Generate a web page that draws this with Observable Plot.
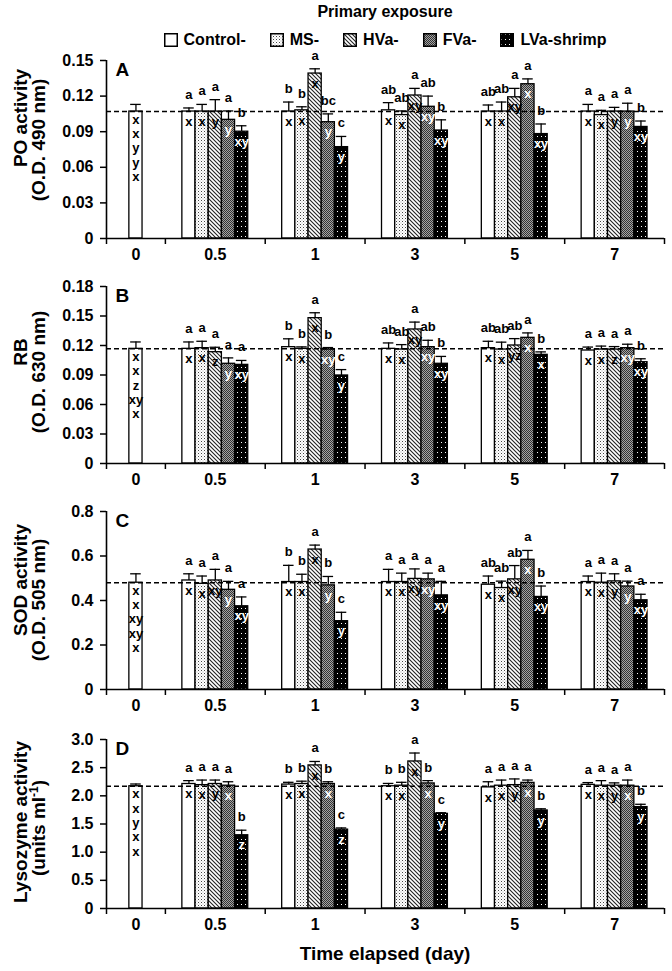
<!DOCTYPE html>
<html><head><meta charset="utf-8">
<script src="https://cdn.jsdelivr.net/npm/d3@7"></script>
<script src="https://cdn.jsdelivr.net/npm/@observablehq/plot@0.6"></script>
<style>
body{margin:0;background:#fff;font-family:"Liberation Sans",Arial,sans-serif;}
#legend{position:relative;height:50px;width:672px;font-weight:bold;font-size:16px;color:#000;}
#ltitle{position:absolute;top:3px;left:106px;width:558px;text-align:center;line-height:18px;}
#litems{position:absolute;top:31px;left:106px;width:558px;display:flex;justify-content:center;gap:24px;line-height:18px;}
.item{display:flex;align-items:center;gap:6px;}
.item svg{display:block;}
svg.plot{display:block;}
</style></head><body>
<svg width="0" height="0" style="position:absolute"><defs>
<pattern id="pMS" patternUnits="userSpaceOnUse" width="3" height="3"><rect width="3" height="3" fill="#fff"/><rect width="1" height="1" fill="#444"/><rect x="1.5" y="1.5" width="1" height="1" fill="#aaa"/></pattern>
<pattern id="pHV" patternUnits="userSpaceOnUse" width="4" height="4"><rect width="4" height="4" fill="#fff"/><path d="M-1,-1L5,5M-1,3L1,5M3,-1L5,1" stroke="#222" stroke-width="1.1"/></pattern>
<pattern id="pFV" patternUnits="userSpaceOnUse" width="2" height="2"><rect width="2" height="2" fill="#a4a4a4"/><rect width="1" height="1" fill="#333"/><rect x="1" y="1" width="1" height="1" fill="#333"/></pattern>
<pattern id="pLV" patternUnits="userSpaceOnUse" width="4" height="5"><rect width="4" height="5" fill="#000"/><rect x="1" y="1" width="1" height="1" fill="#fff"/></pattern>
</defs></svg>
<div id="legend"><div id="ltitle">Primary exposure</div><div id="litems"></div></div>
<div id="charts"></div>
<script>
// ---------- data ----------
const days = ["0", "0.5", "1", "3", "5", "7"];
const series = ["Control-", "MS-", "HVa-", "FVa-", "LVa-shrimp"];
const fills = ["#fff", "url(#pMS)", "url(#pHV)", "url(#pFV)", "url(#pLV)"];

// Panel A: PO activity (rows = series, columns = days 0.5, 1, 3, 5, 7)
const poDay0 = [0.107, 0.006];
const poDay0Letters = ["x", "x", "y", "y", "x"];
const poMean = [
  [0.107, 0.107, 0.108, 0.107, 0.107],
  [0.107, 0.108, 0.104, 0.107, 0.104],
  [0.107, 0.139, 0.1205, 0.119, 0.107],
  [0.100, 0.098, 0.111, 0.130, 0.107],
  [0.090, 0.077, 0.091, 0.088, 0.094]
];
const poSE = [
  [0.003, 0.008, 0.0065, 0.0055, 0.006],
  [0.006, 0.003, 0.0035, 0.008, 0.004],
  [0.010, 0.004, 0.006, 0.0075, 0.0035],
  [0.0075, 0.007, 0.009, 0.0045, 0.007],
  [0.005, 0.009, 0.009, 0.0085, 0.005]
];
const poUp = [
  ["a", "b", "ab", "ab", "a"],
  ["a", "b", "ab", "ab", "a"],
  ["a", "a", "a", "a", "a"],
  ["a", "bc", "ab", "a", "a"],
  ["b", "c", "b", "b", "b"]
];
const poIn = [
  ["x", "x", "x", "x", "x"],
  ["x", "x", "x", "x", "x"],
  ["y", "x", "xy", "xy", "y"],
  ["y", "y", "xy", "x", "y"],
  ["xy", "y", "xy", "xy", "xy"]
];
const poTicks = [0, 0.03, 0.06, 0.09, 0.12, 0.15];
const poTickLabels = ["0", "0.03", "0.06", "0.09", "0.12", "0.15"];

// Panel B: RB
const rbDay0 = [0.1166, 0.007];
const rbDay0Letters = ["x", "x", "z", "xy", "x"];
const rbMean = [
  [0.1166, 0.1183, 0.1166, 0.1173, 0.1149],
  [0.1173, 0.1166, 0.1159, 0.1159, 0.1159],
  [0.1132, 0.1478, 0.1363, 0.1200, 0.1159],
  [0.1014, 0.1159, 0.1183, 0.1278, 0.1173],
  [0.1003, 0.0895, 0.1014, 0.1105, 0.1030]
];
const rbSE = [
  [0.007, 0.0085, 0.006, 0.007, 0.0035],
  [0.007, 0.002, 0.005, 0.0075, 0.0035],
  [0.005, 0.0055, 0.0075, 0.007, 0.003],
  [0.006, 0.002, 0.007, 0.005, 0.004],
  [0.0045, 0.006, 0.0075, 0.003, 0.0035]
];
const rbUp = [
  ["a", "b", "ab", "ab", "a"],
  ["a", "b", "ab", "ab", "a"],
  ["a", "a", "a", "ab", "a"],
  ["a", "b", "ab", "a", "a"],
  ["a", "c", "b", "b", "b"]
];
const rbIn = [
  ["x", "x", "x", "x", "x"],
  ["x", "x", "x", "x", "x"],
  ["z", "x", "xy", "yz", "z"],
  ["y", "xy", "xy", "x", "xy"],
  ["xy", "y", "xy", "x", "xy"]
];
const rbTicks = [0, 0.03, 0.06, 0.09, 0.12, 0.15, 0.18];
const rbTickLabels = ["0", "0.03", "0.06", "0.09", "0.12", "0.15", "0.18"];

// Panel C: SOD activity
const sodDay0 = [0.48, 0.04];
const sodDay0Letters = ["x", "x", "xy", "xy", "x"];
const sodMean = [
  [0.490, 0.483, 0.483, 0.471, 0.483],
  [0.475, 0.483, 0.483, 0.456, 0.480],
  [0.490, 0.629, 0.497, 0.495, 0.486],
  [0.448, 0.468, 0.495, 0.583, 0.463],
  [0.374, 0.307, 0.423, 0.416, 0.401]
];
const sodSE = [
  [0.030, 0.075, 0.057, 0.039, 0.027],
  [0.035, 0.035, 0.040, 0.031, 0.043],
  [0.050, 0.020, 0.045, 0.062, 0.034],
  [0.038, 0.040, 0.028, 0.042, 0.024],
  [0.042, 0.040, 0.063, 0.049, 0.027]
];
const sodUp = [
  ["a", "b", "a", "ab", "a"],
  ["a", "b", "a", "ab", "a"],
  ["a", "a", "a", "ab", "a"],
  ["a", "b", "a", "a", "a"],
  ["a", "c", "a", "b", "a"]
];
const sodIn = [
  ["x", "x", "x", "x", "x"],
  ["x", "x", "x", "x", "x"],
  ["xy", "x", "xy", "xy", "y"],
  ["y", "y", "xy", "x", "y"],
  ["xy", "y", "xy", "xy", "xy"]
];
const sodTicks = [0, 0.2, 0.4, 0.6, 0.8];
const sodTickLabels = ["0", "0.2", "0.4", "0.6", "0.8"];

// Panel D: Lysozyme activity
const lysDay0 = [2.17, 0.04];
const lysDay0Letters = ["x", "x", "y", "x", "x"];
const lysMean = [
  [2.21, 2.20, 2.17, 2.15, 2.195],
  [2.19, 2.21, 2.18, 2.18, 2.18],
  [2.21, 2.54, 2.61, 2.19, 2.18],
  [2.18, 2.21, 2.22, 2.23, 2.18],
  [1.30, 1.40, 1.68, 1.74, 1.80]
];
const lysSE = [
  [0.06, 0.04, 0.05, 0.10, 0.04],
  [0.09, 0.05, 0.06, 0.10, 0.09],
  [0.07, 0.07, 0.15, 0.11, 0.05],
  [0.07, 0.04, 0.05, 0.05, 0.10],
  [0.09, 0.03, 0.02, 0.03, 0.05]
];
const lysUp = [
  ["a", "b", "b", "a", "a"],
  ["a", "b", "b", "a", "a"],
  ["a", "a", "a", "a", "a"],
  ["a", "b", "b", "a", "a"],
  ["b", "c", "c", "b", "b"]
];
const lysIn = [
  ["x", "x", "x", "x", "x"],
  ["x", "x", "x", "x", "x"],
  ["y", "x", "x", "y", "y"],
  ["x", "x", "x", "x", "x"],
  ["z", "z", "y", "y", "y"]
];
const lysTicks = [0, 0.5, 1.0, 1.5, 2.0, 2.5, 3.0];
const lysTickLabels = ["0", "0.5", "1.0", "1.5", "2.0", "2.5", "3.0"];

// ---------- layout helpers ----------
const groupWidths = [0.59, 1, 1, 1, 1, 1];
const boundaries = [0];
groupWidths.forEach(w => boundaries.push(boundaries[boundaries.length - 1] + w));
const centers = groupWidths.map((w, i) => boundaries[i] + w / 2);
const total = boundaries[boundaries.length - 1];
const barW = 0.132, capHalf = 0.053;
const FONT = '"Liberation Sans", Arial, sans-serif';

// legend
const li = document.getElementById("litems");
series.forEach((s, i) => {
  const el = document.createElement("span");
  el.className = "item";
  el.innerHTML = `<svg width="14" height="14"><rect x="0.75" y="0.75" width="12.5" height="12.5" fill="${fills[i]}" stroke="#000" stroke-width="1.5"/></svg><span>${s}</span>`;
  li.appendChild(el);
});

function panel(cfg) {
  const bars = [{series: series[0], k: 0, c: centers[0], mean: cfg.day0[0], se: cfg.day0[1], up: "", inner: ""}];
  for (let k = 0; k < 5; k++) for (let j = 0; j < 5; j++) {
    bars.push({series: series[k], k, c: centers[j + 1] + (k - 2) * barW,
      mean: cfg.mean[k][j], se: cfg.se[k][j], up: cfg.up[k][j], inner: cfg.inner[k][j]});
  }
  const plot = Plot.plot({
    width: 672, height: cfg.height,
    marginLeft: 106, marginRight: 8, marginTop: cfg.mt, marginBottom: cfg.mb,
    x: {type: "linear", domain: [0, total]},
    y: {domain: [0, cfg.ticks[cfg.ticks.length - 1]]},
    color: {domain: series, range: fills},
    style: {fontFamily: FONT, fontWeight: "bold", fontSize: "16px", color: "#000", background: "#fff", overflow: "visible"},
    marks: [
      Plot.rect(bars, {x1: d => d.c - barW / 2, x2: d => d.c + barW / 2, y1: d => 0, y2: "mean",
        fill: "series", stroke: "#000", strokeWidth: 1.3}),
      Plot.ruleX(bars, {x: "c", y1: "mean", y2: d => d.mean + d.se, stroke: "#000", strokeWidth: 1.3}),
      Plot.ruleY(bars, {y: d => d.mean + d.se, x1: d => d.c - capHalf, x2: d => d.c + capHalf, stroke: "#000", strokeWidth: 1.3}),
      Plot.ruleY([cfg.day0[0]], {stroke: "#000", strokeWidth: 1.5, strokeDasharray: "5,3"}),
      Plot.ruleX([0], {stroke: "#000", strokeWidth: 1.6}),
      Plot.ruleY([0], {stroke: "#000", strokeWidth: 1.6}),
      Plot.axisY({ticks: cfg.ticks, tickSize: 6, tickPadding: 7, strokeWidth: 1.5, label: null,
        tickFormat: d => cfg.tickLabels[cfg.ticks.indexOf(d)], fontSize: 16, fontWeight: "bold"}),
      Plot.axisX({ticks: boundaries, tickSize: 6, strokeWidth: 1.5, label: null, tickFormat: () => ""}),
      Plot.axisX({ticks: centers, tickSize: 0, tickPadding: 10, label: null,
        tickFormat: d => days[centers.indexOf(d)], fontSize: 16, fontWeight: "bold"}),
      Plot.text(bars.filter(d => d.up), {x: "c", y: d => d.mean + d.se, text: "up", dy: -9,
        lineAnchor: "bottom", fontSize: 13, fontWeight: "bold", fill: "#000"}),
      Plot.text(bars.filter(d => d.inner && d.k < 3), {x: "c", y: "mean", text: "inner", dy: 10,
        lineAnchor: "middle", fontSize: 13, fontWeight: "bold", fill: "#000"}),
      Plot.text(bars.filter(d => d.inner && d.k >= 3), {x: "c", y: "mean", text: "inner", dy: 10,
        lineAnchor: "middle", fontSize: 13, fontWeight: "bold", fill: "#fff"}),
      Plot.text([cfg.day0Letters.join("\n")], {x: centers[0], y: cfg.day0[0], text: d => d, dy: 2,
        lineAnchor: "top", lineHeight: 1.1, fontSize: 13, fontWeight: "bold", fill: "#000"}),
      Plot.text([cfg.letter], {text: d => d, frameAnchor: "top-left", dx: 9, dy: 2, fontSize: 19, fontWeight: "bold"})
    ]
  });
  const svg = d3.select(plot);
  svg.append("text").attr("transform", `translate(27,${cfg.t1y}) rotate(-90)`)
    .attr("text-anchor", "middle").attr("font-size", 19).attr("font-weight", "bold")
    .attr("font-family", FONT).attr("fill", "#000").text(cfg.title1);
  const t2 = svg.append("text").attr("transform", `translate(45,${cfg.t2y}) rotate(-90)`)
    .attr("text-anchor", "middle").attr("font-size", 19).attr("font-weight", "bold")
    .attr("font-family", FONT).attr("fill", "#000");
  if (cfg.sup) {
    t2.append("tspan").text(cfg.title2);
    t2.append("tspan").attr("dy", -7).attr("font-size", 12).text(cfg.sup);
    t2.append("tspan").attr("dy", 7).text(")");
  } else t2.text(cfg.title2);
  if (cfg.xTitle) {
    svg.append("text").attr("x", 385).attr("y", cfg.height - 11).attr("text-anchor", "middle")
      .attr("font-size", 19).attr("font-weight", "bold").attr("font-family", FONT).attr("fill", "#000")
      .text(cfg.xTitle);
  }
  document.getElementById("charts").appendChild(plot);
}

panel({mean: poMean, se: poSE, up: poUp, inner: poIn, day0: poDay0, day0Letters: poDay0Letters,
  ticks: poTicks, tickLabels: poTickLabels, letter: "A", height: 226, mt: 10, mb: 38,
  title1: "PO activity", title2: "(O.D. 490 nm)", t1y: 68, t2y: 90});
panel({mean: rbMean, se: rbSE, up: rbUp, inner: rbIn, day0: rbDay0, day0Letters: rbDay0Letters,
  ticks: rbTicks, tickLabels: rbTickLabels, letter: "B", height: 226, mt: 10, mb: 39,
  title1: "RB", title2: "(O.D. 630 nm)", t1y: 76, t2y: 96});
panel({mean: sodMean, se: sodSE, up: sodUp, inner: sodIn, day0: sodDay0, day0Letters: sodDay0Letters,
  ticks: sodTicks, tickLabels: sodTickLabels, letter: "C", height: 226, mt: 9, mb: 39,
  title1: "SOD activity", title2: "(O.D. 505 nm)", t1y: 78, t2y: 98});
panel({mean: lysMean, se: lysSE, up: lysUp, inner: lysIn, day0: lysDay0, day0Letters: lysDay0Letters,
  ticks: lysTicks, tickLabels: lysTickLabels, letter: "D", height: 243, mt: 11, mb: 63,
  title1: "Lysozyme activity", title2: "(units ml", sup: "-1", t1y: 94, t2y: 100,
  xTitle: "Time elapsed (day)"});
</script>
</body></html>
